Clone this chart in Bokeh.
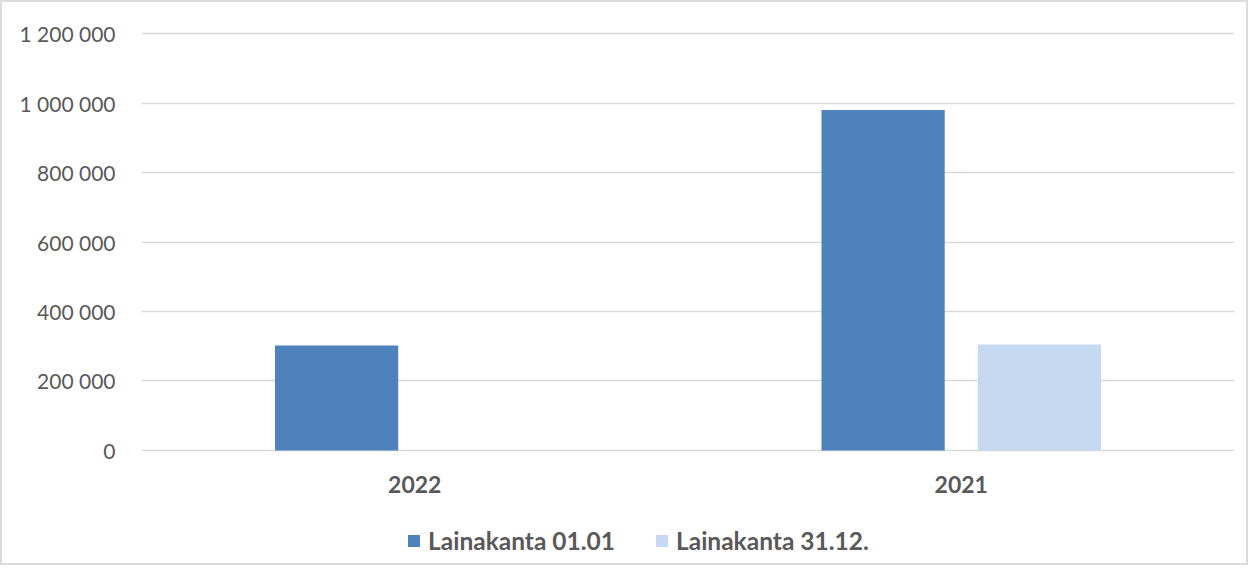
from bokeh.plotting import figure
from bokeh.layouts import column
from bokeh.models import ColumnDataSource, FactorRange, Range1d, FixedTicker, Legend, LegendItem
from bokeh.transform import dodge
from bokeh.embed import file_html
from bokeh.resources import INLINE

categories = ["2022", "2021"]
series_names = ["Lainakanta 01.01", "Lainakanta 31.12."]
lainakanta_0101 = [302000, 980000]
lainakanta_3112 = [0, 305000]
y_ticks = [0, 200000, 400000, 600000, 800000, 1000000, 1200000]
y_tick_labels = ["0", "200 000", "400 000", "600 000", "800 000", "1 000 000", "1 200 000"]

colors = ["#4F81BD", "#C6D9F1"]
text_color = "#595959"

source = ColumnDataSource(dict(cat=categories, a=lainakanta_0101, b=lainakanta_3112))

W = 1244
p = figure(
    x_range=FactorRange(*categories),
    y_range=Range1d(-5769, 1211538),
    width=W, height=508,
    output_backend="svg", toolbar_location=None,
    min_border_left=139, min_border_right=12, min_border_top=27, min_border_bottom=58,
)

r1 = p.vbar(x=dodge("cat", -0.143, range=p.x_range), top="a", width=0.2255,
            source=source, fill_color=colors[0], line_color=None)
r2 = p.vbar(x=dodge("cat", 0.143, range=p.x_range), top="b", width=0.2255,
            source=source, fill_color=colors[1], line_color=None)

p.outline_line_color = None
p.xgrid.grid_line_color = None
p.ygrid.grid_line_color = "#d9d9d9"
p.ygrid.grid_line_width = 1.3
p.ygrid.ticker = FixedTicker(ticks=y_ticks)

p.yaxis.ticker = FixedTicker(ticks=y_ticks)
p.yaxis.major_label_overrides = {t: l for t, l in zip(y_ticks, y_tick_labels)}
p.yaxis.axis_line_color = None
p.yaxis.major_tick_line_color = None
p.yaxis.minor_tick_line_color = None
p.yaxis.major_label_standoff = 20
p.yaxis.major_label_text_font = "Lato"
p.yaxis.major_label_text_font_size = "21px"
p.yaxis.major_label_text_color = text_color

p.xaxis.axis_line_color = None
p.xaxis.major_tick_line_color = None
p.xaxis.minor_tick_line_color = None
p.xaxis.major_label_standoff = 17
p.xaxis.major_label_text_font = "Lato"
p.xaxis.major_label_text_font_size = "23px"
p.xaxis.major_label_text_font_style = "bold"
p.xaxis.major_label_text_color = text_color

# legend strip (its zero-width proxy bars draw nothing in the strip)
q = figure(width=W, height=53, output_backend="svg", toolbar_location=None,
           x_range=FactorRange(*categories), y_range=Range1d(1e9, 1e9 + 1),
           x_axis_type=None, y_axis_type=None,
           min_border_left=0, min_border_right=0, min_border_top=0, min_border_bottom=0)
q.outline_line_color = None
q.xgrid.grid_line_color = None
q.ygrid.grid_line_color = None
l1 = q.vbar(x="cat", top="a", width=0, source=source, fill_color=colors[0], line_color=None)
l2 = q.vbar(x="cat", top="b", width=0, source=source, fill_color=colors[1], line_color=None)

legend = Legend(items=[LegendItem(label=series_names[0], renderers=[l1]),
                       LegendItem(label=series_names[1], renderers=[l2])],
                orientation="horizontal", location=(265, 8))
legend.border_line_color = None
legend.background_fill_alpha = 0
legend.glyph_width = 15
legend.glyph_height = 15
legend.label_standoff = 7
legend.spacing = 39
legend.margin = 0
legend.padding = 5
legend.label_text_font = "Lato"
legend.label_text_font_size = "24.5px"
legend.label_text_font_style = "bold"
legend.label_text_color = text_color
q.add_layout(legend, "center")

layout = column(p, q, styles={"border": "2px solid #dcdcdc"})

open("out.html", "w").write(file_html(layout, INLINE))
